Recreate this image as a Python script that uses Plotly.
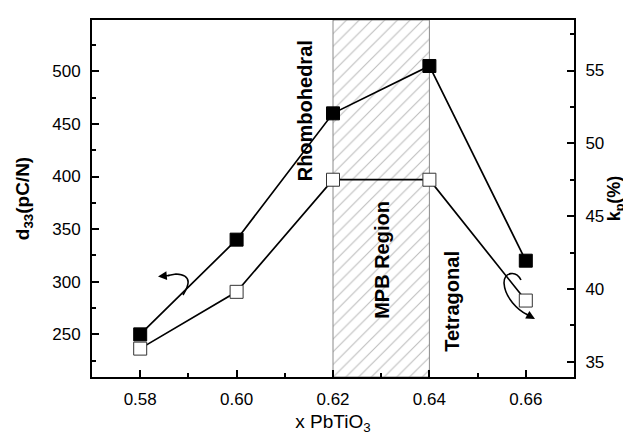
import plotly.graph_objects as go

# ---- data ----
x_pbtio3 = [0.58, 0.60, 0.62, 0.64, 0.66]
d33 = [250, 340, 460, 505, 320]          # pC/N, left axis (filled squares)
kp = [35.9, 39.8, 47.5, 47.5, 39.2]      # %, right axis (open squares)
mpb_region = [0.62, 0.64]                # MPB region bounds
x_ticks = [0.58, 0.60, 0.62, 0.64, 0.66]
x_tick_labels = ["0.58", "0.60", "0.62", "0.64", "0.66"]

# ---- layout constants ----
W, H = 631, 435
L, R, T, B = 84, 566, 12, 369
XR = [0.57, 0.67]
Y1R = [209.5, 548.7]
Y2R = [33.95, 58.47]
FONT = "Liberation Sans, Arial, sans-serif"


def px(xp, yp):
    """pixel -> paper coordinates (decorations only)"""
    return (xp - L) / (R - L), (B - yp) / (B - T)


def path_from(cmds):
    out = []
    for c in cmds:
        if isinstance(c, str):
            out.append(c)
        else:
            a, b = px(*c)
            out.append(f"{a:.4f},{b:.4f}")
    return " ".join(out)


fig = go.Figure()

# MPB hatched region
fig.add_trace(go.Scatter(
    x=[mpb_region[0], mpb_region[1], mpb_region[1], mpb_region[0], mpb_region[0]],
    y=[Y1R[0], Y1R[0], Y1R[1], Y1R[1], Y1R[0]],
    mode="lines", fill="toself",
    line=dict(color="#8a8a8a", width=1),
    fillcolor="rgba(0,0,0,0)",
    fillpattern=dict(shape="/", fgcolor="#7a7a7a", bgcolor="white", size=9, solidity=0.12),
    hoverinfo="skip", showlegend=False, yaxis="y"))

fig.add_trace(go.Scatter(
    x=x_pbtio3, y=d33, mode="lines+markers",
    line=dict(color="black", width=1.7),
    marker=dict(symbol="square", size=13, color="black", line=dict(color="black", width=1)),
    showlegend=False, yaxis="y"))

fig.add_trace(go.Scatter(
    x=x_pbtio3, y=kp, mode="lines+markers",
    line=dict(color="black", width=1.7),
    marker=dict(symbol="square", size=13, color="white", line=dict(color="#333333", width=1)),
    showlegend=False, yaxis="y2"))

# curved arrows
arrow1 = path_from(["M", (175, 287), "C", (180, 279), (186, 267), (168, 266), "L", (160, 267.5)])
arrow2 = path_from(["M", (513, 272), "C", (508, 262), (496, 264), (496, 275),
                    "C", (497, 290), (510, 302), (519, 306.5)])
for p in (arrow1, arrow2):
    fig.add_shape(type="path", path=p, xref="paper", yref="paper",
                  line=dict(color="black", width=1.6))

ann = []
for tail, tip in (((163, 267.3), (150, 268.5)), ((517, 305.5), (527, 311))):
    tx, ty = px(*tip)
    ann.append(dict(x=tx, y=ty, xref="paper", yref="paper", text="", showarrow=True,
                    ax=tail[0] - tip[0], ay=tail[1] - tip[1], axref="pixel", ayref="pixel",
                    arrowhead=2, arrowsize=1.1, arrowwidth=1.6, arrowcolor="black"))

for txt, xx, yy in (("Rhombohedral", 0.6142, 462.0),
                    ("MPB Region", 0.6300, 321.0),
                    ("Tetragonal", 0.6447, 281.0)):
    ann.append(dict(x=xx, y=yy, xref="x", yref="y", text=f"<b>{txt}</b>", showarrow=False,
                    textangle=-90, font=dict(family=FONT, size=20, color="black")))

fig.update_layout(
    width=W, height=H,
    margin=dict(l=L, r=W - R, t=T, b=H - B, autoexpand=False),
    paper_bgcolor="white", plot_bgcolor="white",
    font=dict(family=FONT, color="black", size=16),
    showlegend=False,
    annotations=ann,
    xaxis=dict(range=XR, tickvals=x_ticks, ticktext=x_tick_labels,
               showline=True, linecolor="black", linewidth=2, mirror=True,
               ticks="inside", ticklen=7, tickwidth=2, tickcolor="black",
               minor=dict(ticks="inside", ticklen=4, tickwidth=2, dtick=0.01, tick0=0.57, tickcolor="black"),
               showgrid=False, zeroline=False, ticklabelstandoff=6,
               tickfont=dict(size=17),
               title=dict(text="x PbTiO<sub>3</sub>", font=dict(size=19), standoff=6)),
    yaxis=dict(range=Y1R, dtick=50, tick0=250,
               showline=True, linecolor="black", linewidth=2,
               ticks="inside", ticklen=7, tickwidth=2, tickcolor="black",
               minor=dict(ticks="inside", ticklen=4, tickwidth=2, dtick=25, tickcolor="black"),
               showgrid=False, zeroline=False, tickfont=dict(size=17), ticklabelstandoff=6,
               title=dict(text="<b>d<sub>33</sub>(pC/N)</b>", font=dict(size=19), standoff=18)),
    yaxis2=dict(range=Y2R, dtick=5, tick0=35, overlaying="y", side="right",
                showline=True, linecolor="black", linewidth=2,
                ticks="inside", ticklen=7, tickwidth=2, tickcolor="black",
                minor=dict(ticks="inside", ticklen=4, tickwidth=2, dtick=2.5, tickcolor="black"),
                showgrid=False, zeroline=False, tickfont=dict(size=17), ticklabelstandoff=6,
                title=dict(text="<b>k<sub>p</sub>(%)</b>", font=dict(size=18), standoff=2)),
)

fig.write_html("out.html")
